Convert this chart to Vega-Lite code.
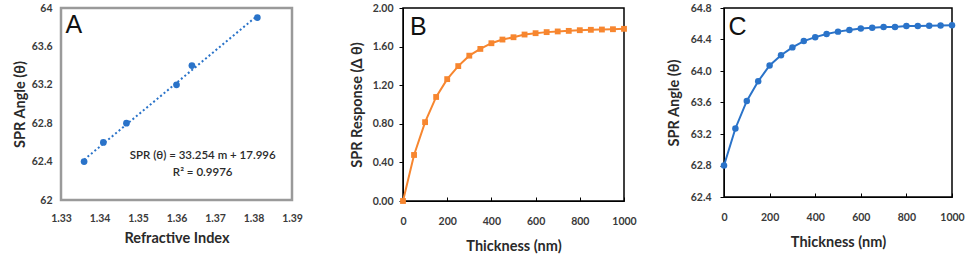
{
  "$schema": "https://vega.github.io/schema/vega-lite/v6.json",
  "background": "white",
  "padding": {"left": 10, "top": -3, "right": 0, "bottom": 0},
  "config": {
    "font": "Lato",
    "axis": {
      "grid": false,
      "labelFont": "Lato",
      "labelFontWeight": "bold",
      "labelFontSize": 10.5,
      "labelColor": "#3a3a3a",
      "labelOverlap": false,
      "labelFlush": false,
      "titleFont": "Lato",
      "titleFontWeight": "bold",
      "titleFontSize": 14.5,
      "titleColor": "#2a2a2a",
      "domainColor": "#000",
      "tickColor": "#000"
    }
  },
  "datasets": {
    "ri": [
      {"x": 1.336, "y": 62.4},
      {"x": 1.341, "y": 62.6},
      {"x": 1.347, "y": 62.8},
      {"x": 1.360, "y": 63.2},
      {"x": 1.364, "y": 63.4},
      {"x": 1.381, "y": 63.9}
    ],
    "trend": [
      {"x": 1.336, "y": 62.42},
      {"x": 1.381, "y": 63.92}
    ],
    "resp": [
      {"x": 0, "y": 0.0}, {"x": 50, "y": 0.477}, {"x": 100, "y": 0.817}, {"x": 150, "y": 1.078},
      {"x": 200, "y": 1.263}, {"x": 250, "y": 1.398}, {"x": 300, "y": 1.506}, {"x": 350, "y": 1.576},
      {"x": 400, "y": 1.635}, {"x": 450, "y": 1.673}, {"x": 500, "y": 1.697}, {"x": 550, "y": 1.725},
      {"x": 600, "y": 1.739}, {"x": 650, "y": 1.75}, {"x": 700, "y": 1.757}, {"x": 750, "y": 1.763},
      {"x": 800, "y": 1.77}, {"x": 850, "y": 1.774}, {"x": 900, "y": 1.777}, {"x": 950, "y": 1.78},
      {"x": 1000, "y": 1.784}
    ],
    "ang": [
      {"x": 0, "y": 62.80}, {"x": 50, "y": 63.27}, {"x": 100, "y": 63.62}, {"x": 150, "y": 63.87},
      {"x": 200, "y": 64.07}, {"x": 250, "y": 64.20}, {"x": 300, "y": 64.30}, {"x": 350, "y": 64.38},
      {"x": 400, "y": 64.43}, {"x": 450, "y": 64.47}, {"x": 500, "y": 64.50}, {"x": 550, "y": 64.52},
      {"x": 600, "y": 64.54}, {"x": 650, "y": 64.55}, {"x": 700, "y": 64.56}, {"x": 750, "y": 64.56},
      {"x": 800, "y": 64.57}, {"x": 850, "y": 64.57}, {"x": 900, "y": 64.575}, {"x": 950, "y": 64.578},
      {"x": 1000, "y": 64.58}
    ],
    "labA": [{"x": 1.3312, "y": 63.82, "txt": "A"}],
    "eqA": [
      {"x": 1.3668, "y": 62.46, "txt": "SPR (θ) = 33.254 m + 17.996"},
      {"x": 1.3668, "y": 62.28, "txt": "R² = 0.9976"}
    ],
    "labB": [{"x": 32, "y": 1.8, "txt": "B"}],
    "labC": [{"x": 20, "y": 64.56, "txt": "C"}]
  },
  "spacing": 44,
  "hconcat": [
    {
      "width": 231,
      "height": 192,
      "view": {"stroke": "#9a9a9a", "strokeWidth": 2.5},
      "encoding": {
        "x": {"field": "x", "type": "quantitative",
              "scale": {"domain": [1.33, 1.39], "nice": false, "zero": false},
              "axis": {"title": "Refractive Index", "values": [1.33, 1.34, 1.35, 1.36, 1.37, 1.38, 1.39],
                       "format": ".2f", "domain": false, "ticks": false, "labelOverlap": false, "labelPadding": 13, "titlePadding": 8}},
        "y": {"field": "y", "type": "quantitative",
              "scale": {"domain": [62, 64], "nice": false, "zero": false},
              "axis": {"title": "SPR Angle (θ)", "values": [62, 62.4, 62.8, 63.2, 63.6, 64],
                       "format": ".1~f", "domain": false, "ticks": false, "labelOverlap": false, "labelPadding": 9, "titlePadding": 4}}
      },
      "layer": [
        {
          "data": {"name": "trend"},
          "mark": {"type": "line", "color": "#2a73c9", "strokeWidth": 2, "strokeDash": [2, 2.5]}
        },
        {
          "data": {"name": "ri"},
          "mark": {"type": "point", "filled": true, "shape": "circle", "color": "#2a73c9", "size": 45, "opacity": 1}
        },
        {
          "data": {"name": "labA"},
          "mark": {"type": "text", "font": "Liberation Sans", "fontSize": 25, "align": "left", "baseline": "middle", "color": "#111"},
          "encoding": {"text": {"field": "txt"}}
        },
        {
          "data": {"name": "eqA"},
          "mark": {"type": "text", "font": "Lato", "fontSize": 11.5, "fontWeight": 600, "align": "center", "baseline": "middle", "color": "#2a2a2a"},
          "encoding": {"text": {"field": "txt"}}
        }
      ]
    },
    {
      "spacing": 28,
      "hconcat": [
        {
          "width": 221,
          "height": 193,
          "view": {"stroke": "#000", "strokeWidth": 1.5},
          "encoding": {
            "x": {"field": "x", "type": "quantitative",
                  "scale": {"domain": [0, 1000], "nice": false},
                  "axis": {"title": "Thickness (nm)", "values": [0, 200, 400, 600, 800, 1000], "format": "d",
                           "labelOverlap": false, "tickSize": -4, "labelPadding": 19, "titlePadding": 13}},
            "y": {"field": "y", "type": "quantitative",
                  "scale": {"domain": [0, 2], "nice": false},
                  "axis": {"title": "SPR Response  (Δ θ)", "values": [0, 0.4, 0.8, 1.2, 1.6, 2.0],
                           "format": ".2f", "labelOverlap": false, "tickSize": 4, "labelPadding": 6, "titlePadding": 8}}
          },
          "layer": [
            {
              "data": {"name": "resp"},
              "mark": {"type": "line", "color": "#f7862f", "strokeWidth": 2,
                       "point": {"shape": "square", "filled": true, "size": 34, "color": "#f7862f"}}
            },
            {
              "data": {"name": "labB"},
              "mark": {"type": "text", "font": "Liberation Sans", "fontSize": 25, "align": "left", "baseline": "middle", "color": "#111"},
              "encoding": {"text": {"field": "txt"}}
            }
          ]
        },
        {
          "width": 228,
          "height": 189,
          "title": {"text": " ", "fontSize": 5, "offset": 0},
          "view": {"stroke": "#000", "strokeWidth": 1.5},
          "encoding": {
            "x": {"field": "x", "type": "quantitative",
                  "scale": {"domain": [0, 1000], "nice": false},
                  "axis": {"title": "Thickness (nm)", "values": [0, 200, 400, 600, 800, 1000], "format": "d",
                           "labelOverlap": false, "tickSize": -4, "labelPadding": 19, "titlePadding": 13}},
            "y": {"field": "y", "type": "quantitative",
                  "scale": {"domain": [62.4, 64.8], "nice": false, "zero": false},
                  "axis": {"title": "SPR Angle  (θ)", "values": [62.4, 62.8, 63.2, 63.6, 64.0, 64.4, 64.8],
                           "format": ".1f", "labelOverlap": false, "tickSize": 4, "labelPadding": 9, "titlePadding": 9}}
          },
          "layer": [
            {
              "data": {"name": "ang"},
              "mark": {"type": "line", "color": "#2a73c9", "strokeWidth": 2,
                       "point": {"shape": "circle", "filled": true, "size": 42, "color": "#2a73c9"}}
            },
            {
              "data": {"name": "labC"},
              "mark": {"type": "text", "font": "Liberation Sans", "fontSize": 25, "align": "left", "baseline": "middle", "color": "#111"},
              "encoding": {"text": {"field": "txt"}}
            }
          ]
        }
      ]
    }
  ]
}
